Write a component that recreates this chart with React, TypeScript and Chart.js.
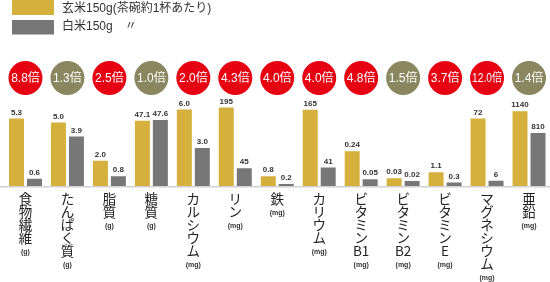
import React, { useEffect, useRef } from 'react';
import { Chart, registerables } from 'chart.js';

Chart.register(...registerables);

// ---- data ----
const categories = ['食物繊維', 'たんぱく質', '脂質', '糖質', 'カルシウム', 'リン', '鉄', 'カリウム', 'ビタミンB1', 'ビタミンB2', 'ビタミンE', 'マグネシウム', '亜鉛'];
const units = ['g', 'g', 'g', 'g', 'mg', 'mg', 'mg', 'mg', 'mg', 'mg', 'mg', 'mg', 'mg'];
const brownRice = [5.3, 5.0, 2.0, 47.1, 6.0, 195, 0.8, 165, 0.24, 0.03, 1.1, 72, 1140];
const whiteRice = [0.6, 3.9, 0.8, 47.6, 3.0, 45, 0.2, 41, 0.05, 0.02, 0.3, 6, 810];
const decimals = [1, 1, 1, 1, 1, 0, 1, 0, 2, 2, 1, 0, 0];
const ratios = [8.8, 1.3, 2.5, 1.0, 2.0, 4.3, 4.0, 4.0, 4.8, 1.5, 3.7, 12.0, 1.4];
// each nutrient is drawn on its own scale: the value that would fill the full bar height
const categoryScale = [7.8, 7.8, 7.75, 71.5, 7.8, 247, 7.8, 215, 0.68, 0.36, 7.7, 106, 1515];
const seriesLabels = ['玄米150g(茶碗約1杯あたり)', '白米150g　〃'];

const GOLD = '#d6b03c';
const GRAY = '#777777';
const RED = '#e60012';
const OLIVE = '#8a8760';

const overlayPlugin = {
  id: 'overlay',
  afterDatasetsDraw(chart: any) {
    const ctx: CanvasRenderingContext2D = chart.ctx;
    const area = chart.chartArea;
    const xScale = chart.scales.x;
    ctx.save();

    // baseline
    ctx.fillStyle = '#d2d2d2';
    ctx.fillRect(0, area.bottom - 0.5, chart.width, 1.5);

    // value labels
    ctx.font = "bold 8px 'Liberation Sans', Arial, sans-serif";
    ctx.fillStyle = '#333333';
    ctx.textAlign = 'center';
    ctx.textBaseline = 'bottom';
    chart.data.datasets.forEach((_ds: any, di: number) => {
      const meta = chart.getDatasetMeta(di);
      const raw = di === 0 ? brownRice : whiteRice;
      meta.data.forEach((bar: any, i: number) => {
        ctx.fillText(raw[i].toFixed(decimals[i]), bar.x, bar.y - 2);
      });
    });

    // ratio badges
    ctx.textBaseline = 'middle';
    ratios.forEach((r, i) => {
      const x = xScale.getPixelForValue(i);
      const y = 78;
      ctx.beginPath();
      ctx.arc(x, y, 17, 0, Math.PI * 2);
      ctx.fillStyle = r >= 2 ? RED : OLIVE;
      ctx.fill();
      ctx.fillStyle = '#ffffff';
      ctx.font = "12px 'Liberation Sans', 'Noto Sans CJK JP', sans-serif";
      ctx.fillText(r.toFixed(1) + '倍', x, y + 0.5, 30);
    });

    // vertical category labels
    categories.forEach((name, i) => {
      const x = xScale.getPixelForValue(i);
      const tokens = name.match(/[A-Za-z0-9]+|./gu) || [];
      const y = area.bottom + 12.5;
      ctx.font = "13.5px 'Noto Sans CJK JP', sans-serif";
      ctx.fillStyle = '#222222';
      tokens.forEach((t, j) => {
        ctx.fillText(t, x, y + j * 13);
      });
      const last = y + (tokens.length - 1) * 13;
      ctx.font = "bold 7px 'Liberation Sans', Arial, sans-serif";
      ctx.fillStyle = '#333333';
      ctx.fillText('(' + units[i] + ')', x, last + 14);
    });

    // legend
    ctx.textAlign = 'left';
    const colors = [GOLD, GRAY];
    const boxes = [[0, 15], [20, 14.5]];
    const textY = [9, 27];
    chart.data.datasets.forEach((ds: any, di: number) => {
      ctx.fillStyle = colors[di];
      ctx.fillRect(12, boxes[di][0], 42, boxes[di][1]);
      ctx.fillStyle = '#333333';
      ctx.font = "12px 'Liberation Sans', 'Noto Sans CJK JP', sans-serif";
      ctx.fillText(ds.label, 62, textY[di]);
    });

    ctx.restore();
  },
};

export default function App() {
  const ref = useRef<HTMLCanvasElement | null>(null);
  useEffect(() => {
    document.body.style.margin = '0';
    const canvas = ref.current;
    if (!canvas) return;
    const chart = new Chart(canvas, {
      type: 'bar',
      data: {
        labels: categories,
        datasets: [
          {
            label: seriesLabels[0],
            data: brownRice.map((v, i) => v / categoryScale[i]),
            backgroundColor: GOLD,
            borderWidth: 0,
            categoryPercentage: 0.857,
            barPercentage: 0.833,
          },
          {
            label: seriesLabels[1],
            data: whiteRice.map((v, i) => v / categoryScale[i]),
            backgroundColor: GRAY,
            borderWidth: 0,
            categoryPercentage: 0.857,
            barPercentage: 0.833,
          },
        ],
      },
      options: {
        responsive: false,
        animation: false,
        layout: { padding: { left: 4.5, right: 0, top: 86.5, bottom: 95.5 } },
        scales: {
          x: { display: false, grid: { display: false } },
          y: { display: false, min: 0, max: 1 },
        },
        plugins: {
          legend: { display: false },
          tooltip: { enabled: false },
        },
      },
      plugins: [overlayPlugin],
    });
    return () => chart.destroy();
  }, []);
  return <canvas ref={ref} width={550} height={282} style={{ display: 'block' }} />;
}
